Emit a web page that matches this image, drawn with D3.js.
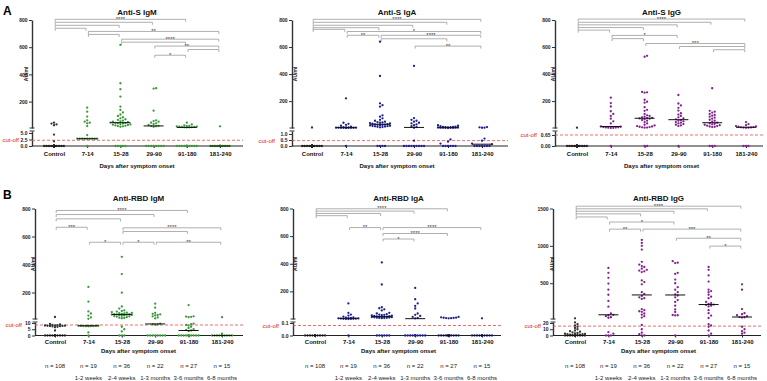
<!DOCTYPE html>
<html>
<head>
<meta charset="utf-8">
<script src="https://cdn.jsdelivr.net/npm/d3@7"></script>
<style>
  body { margin: 0; background: #fff; }
  svg { display: block; font-family: "Liberation Sans", Arial, sans-serif; }
</style>
</head>
<body>
<svg id="chart" width="767" height="381"></svg>
<script>
// groups and labels
var categories = ["Control", "7-14", "15-28", "29-90", "91-180", "181-240"];
var groupN = ["n = 108", "n = 19", "n = 36", "n = 22", "n = 27", "n = 15"];
var periodLabels = ["", "1-2 weeks", "2-4 weeks", "1-3 months", "3-6 months", "6-8 months"];

// tick values
var upperTicks = [200, 400, 600, 800];
var upperTicksRbdIgG = [500, 1000, 1500];
var lowerTicksSIgM = [0, 2.5, 5];
var lowerTicksSIgA = [0, 0.5, 1];
var lowerTicksSIgG = [0, 0.65];
var lowerTicksRbdIgM = [0, 5, 10];
var lowerTicksRbdIgA = [0, 0.1];
var lowerTicksRbdIgG = [0, 10, 20];

// cut-off per panel (A1..A3, B1..B3)
var cutoffs = [2.2, 0.45, 0.65, 8.4, 0.08, 15];

// AU/ml values, one array per group
var sIgM = [
  [45, 38, 32, 26, 4.4, 1.8,
   0,0,0,0,0,0,0,0,0,0, 0,0,0,0,0,0,0,0,0,0, 0,0,0,0,0,0,0,0,0,0, 0,0,0,0,0,0,0,0,0,0,
   0,0,0,0,0,0,0,0,0,0, 0,0,0,0,0,0,0,0,0,0, 0,0,0,0,0,0,0,0,0,0, 0,0,0,0,0,0,0,0,0,0,
   0,0,0,0,0,0,0,0,0,0, 0,0,0,0,0,0,0,0,0,0, 0,0],
  [155, 126, 90, 62, 52, 45, 40, 20, 4.2, 2.8, 2.8, 2.8, 2.8, 2.8, 2.8, 2.8, 2.8, 2.8, 0],
  [617, 335, 291, 237, 163, 139, 120, 105, 94, 85, 77, 70, 65, 60, 55, 52, 48, 46, 44, 42,
   40, 38, 35, 32, 30, 28, 25, 22, 20, 18, 15, 0, 0, 0, 0, 0],
  [298, 296, 133, 62, 57, 52, 45, 40, 35, 28, 22, 20, 18, 15, 0, 0, 0, 0, 0, 0, 0, 0],
  [45, 32, 25, 22, 20, 18, 16, 15, 14, 13, 12, 11, 10.5, 10, 0, 0, 0, 0, 0, 0, 0, 0, 0, 0, 0, 0, 0],
  [18, 0, 0, 0, 0, 0, 0, 0, 0, 0, 0, 0, 0, 0, 0]
];
var sIgA = [
  [5,
   0,0,0,0,0,0,0,0,0,0, 0,0,0,0,0,0,0,0,0,0, 0,0,0,0,0,0,0,0,0,0, 0,0,0,0,0,0,0,0,0,0,
   0,0,0,0,0,0,0,0,0,0, 0,0,0,0,0,0,0,0,0,0, 0,0,0,0,0,0,0,0,0,0, 0,0,0,0,0,0,0,0,0,0,
   0,0,0,0,0,0,0,0,0,0, 0,0,0,0,0,0,0,0,0,0, 0,0,0,0,0,0,0],
  [221, 40, 32, 25, 18, 12, 8, 6, 5, 4, 4, 3.5, 3, 3, 2.5, 2.5, 2, 2, 0],
  [640, 386, 184, 170, 159, 95, 85, 73, 62, 55, 48, 45, 42, 40, 38, 35, 33, 30, 28, 26,
   25, 24, 22, 20, 18, 16, 15, 14, 12, 10, 8, 6, 0, 0, 0, 0],
  [460, 75, 62, 55, 48, 40, 35, 28, 22, 15, 8, 3, 0.44, 0, 0, 0, 0, 0, 0, 0, 0, 0],
  [22, 18, 15, 12, 10, 9, 8, 7, 6, 5, 5, 4, 4, 3.5, 3, 3, 2.5, 2, 0.55, 0.36, 0.2, 0, 0, 0, 0, 0, 0],
  [8, 6, 4, 3, 0.62, 0.44, 0.2, 0.15, 0, 0, 0, 0, 0, 0, 0]
];
var sIgG = [
  [3,
   0,0,0,0,0,0,0,0,0,0, 0,0,0,0,0,0,0,0,0,0, 0,0,0,0,0,0,0,0,0,0, 0,0,0,0,0,0,0,0,0,0,
   0,0,0,0,0,0,0,0,0,0, 0,0,0,0,0,0,0,0,0,0, 0,0,0,0,0,0,0,0,0,0, 0,0,0,0,0,0,0,0,0,0,
   0,0,0,0,0,0,0,0,0,0, 0,0,0,0,0,0,0,0,0,0, 0,0,0,0,0,0,0],
  [225, 185, 160, 125, 105, 90, 70, 50, 35, 12, 10, 8, 6, 5, 4, 3, 2, 1.5, 0],
  [535, 528, 268, 265, 262, 210, 195, 188, 155, 135, 128, 105, 95, 90, 85, 80, 76, 74, 72, 70,
   65, 60, 55, 45, 35, 25, 20, 15, 12, 10, 8, 6, 4, 3, 0, 0],
  [245, 182, 168, 150, 130, 110, 100, 90, 80, 72, 65, 60, 55, 50, 45, 40, 35, 30, 25, 20, 15, 0],
  [295, 128, 122, 115, 105, 98, 92, 85, 78, 70, 62, 55, 48, 40, 35, 32, 28, 25, 22, 18, 15, 12, 10, 8, 0, 0, 0],
  [45, 30, 22, 15, 12, 10, 8, 6, 5, 4, 3, 2, 0, 0, 0]
];
var rbdIgM = [
  [25, 9.2, 8.8, 8.5, 8.3, 8.1, 8.0, 7.9, 7.8, 7.7, 7.6, 7.5, 7.3, 7.0, 6.6, 4.0,
   0,0,0,0,0,0,0,0,0,0, 0,0,0,0,0,0,0,0,0,0, 0,0,0,0,0,0,0,0,0,0, 0,0,0,0,0,0,0,0,0,0,
   0,0,0,0,0,0,0,0,0,0, 0,0,0,0,0,0,0,0,0,0, 0,0,0,0,0,0,0,0,0,0, 0,0,0,0,0,0,0,0,0,0,
   0,0,0,0,0,0,0,0,0,0, 0,0],
  [240, 135, 65, 50, 35, 22, 12, 7.9, 7.8, 7.8, 7.7, 7.7, 7.6, 7.6, 7.5, 7.5, 7.4, 2.5, 0],
  [455, 332, 199, 100, 85, 72, 68, 64, 60, 56, 54, 52, 50, 48, 46, 45, 44, 43, 42, 40,
   38, 36, 34, 32, 30, 28, 24, 20, 18, 16, 7, 5, 3.3, 0, 0, 0],
  [120, 92, 55, 48, 44, 40, 36, 30, 22, 15, 9.5, 9, 8.8, 8.6, 0, 0, 0, 0, 0, 0, 0, 0],
  [110, 30, 28, 26, 24, 9.5, 9, 8.5, 8, 7, 6, 5, 4.5, 4, 3.5, 0, 0, 0, 0, 0, 0, 0, 0, 0, 0, 0, 0],
  [24, 1.4, 0, 0, 0, 0, 0, 0, 0, 0, 0, 0, 0, 0, 0]
];
var rbdIgA = [
  [0,0,0,0,0,0,0,0,0,0, 0,0,0,0,0,0,0,0,0,0, 0,0,0,0,0,0,0,0,0,0, 0,0,0,0,0,0,0,0,0,0,
   0,0,0,0,0,0,0,0,0,0, 0,0,0,0,0,0,0,0,0,0, 0,0,0,0,0,0,0,0,0,0, 0,0,0,0,0,0,0,0,0,0,
   0,0,0,0,0,0,0,0,0,0, 0,0,0,0,0,0,0,0,0,0, 0,0,0,0,0,0,0,0],
  [113, 45, 32, 25, 18, 12, 10, 8, 6, 5, 4, 3, 2.5, 2, 1.5, 1, 0.5, 0.2, 0],
  [410, 250, 85, 78, 70, 62, 45, 40, 36, 32, 30, 28, 26, 24, 22, 20, 19, 18, 17, 16,
   15, 14, 13, 12, 11, 10, 9, 8, 7, 6, 0, 0, 0, 0, 0, 0],
  [225, 143, 113, 95, 76, 40, 30, 22, 15, 8, 5, 0, 0, 0, 0, 0, 0, 0, 0, 0, 0, 0],
  [15, 12, 10, 9, 8, 7, 6, 5, 0, 0, 0, 0, 0, 0, 0, 0, 0, 0, 0, 0, 0, 0, 0, 0, 0, 0, 0],
  [5, 0, 0, 0, 0, 0, 0, 0, 0, 0, 0, 0, 0, 0, 0]
];
var rbdIgG = [
  [30, 21, 18, 16, 14, 12, 10, 8, 7, 6, 5, 4, 3.5, 3, 2.5, 2, 2, 1.5, 1.5, 1, 1, 0.5,
   0,0,0,0,0,0,0,0,0,0, 0,0,0,0,0,0,0,0,0,0, 0,0,0,0,0,0,0,0,0,0, 0,0,0,0,0,0,0,0,0,0,
   0,0,0,0,0,0,0,0,0,0, 0,0,0,0,0,0,0,0,0,0, 0,0,0,0,0,0,0,0,0,0, 0,0,0,0,0,0,0,0,0,0,
   0,0,0,0,0,0],
  [705, 640, 572, 495, 414, 346, 264, 187, 95, 78, 72, 60, 45, 38, 5.5, 3, 0, 0, 0],
  [1080, 1040, 1000, 950, 786, 750, 730, 717, 695, 680, 670, 660, 650, 538, 516, 485, 380, 357, 330, 312,
   300, 290, 154, 140, 125, 118, 95, 80, 60, 40, 17, 10, 4.5, 2, 0, 0],
  [795, 775, 770, 640, 625, 549, 500, 447, 414, 380, 350, 336, 312, 275, 250, 200, 150, 115, 75, 72, 70, 0],
  [717, 680, 604, 522, 414, 395, 380, 346, 320, 300, 250, 235, 225, 215, 210, 200, 190, 140, 100, 68,
   35, 18, 16, 14, 8, 3, 0],
  [485, 414, 154, 100, 85, 72, 60, 48, 45, 40, 14, 10, 7, 4.5, 3]
];

// significance brackets: [from group, to group, height in AU/ml, stars]
var sIgMBrackets = [
  [0, 4, 805, "****"], [0, 3, 783, ""], [0, 2, 761, ""], [0, 1, 739, ""],
  [1, 5, 716, "**"], [1, 2, 694, ""], [2, 5, 659, "****"], [2, 4, 637, ""],
  [3, 5, 608, "**"], [4, 5, 583, ""], [3, 4, 541, "*"]
];
var sIgABrackets = [
  [0, 5, 805, "****"], [0, 4, 783, ""], [0, 3, 761, ""], [0, 2, 743, ""], [0, 1, 731, ""],
  [1, 5, 715, "*"], [1, 2, 687, "**"], [2, 5, 687, "****"], [2, 4, 661, ""], [3, 5, 607, "**"]
];
var sIgGBrackets = [
  [0, 5, 807, "****"], [0, 4, 783, ""], [0, 3, 764, ""], [0, 2, 744, ""], [0, 1, 725, ""],
  [1, 3, 686, "*"], [1, 2, 662, ""], [2, 5, 626, "***"], [3, 5, 604, ""], [4, 5, 580, ""]
];
var rbdIgMBrackets = [
  [0, 4, 786, "****"], [0, 3, 757, ""], [0, 2, 726, ""], [0, 1, 666, "***"],
  [2, 5, 662, "****"], [2, 4, 636, ""], [1, 2, 559, "*"], [2, 3, 559, "*"], [3, 5, 559, "**"]
];
var rbdIgABrackets = [
  [0, 4, 798, "****"], [0, 3, 781, ""], [0, 2, 764, ""], [0, 1, 748, ""],
  [1, 2, 662, "**"], [2, 5, 662, "****"], [2, 4, 619, "****"], [2, 3, 579, "*"]
];
var rbdIgGBrackets = [
  [0, 5, 1531, "****"], [0, 4, 1496, ""], [0, 3, 1463, ""], [0, 2, 1428, ""], [0, 1, 1387, ""],
  [1, 3, 1319, "*"], [1, 2, 1224, "**"], [2, 5, 1224, "***"], [3, 5, 1102, "**"], [4, 5, 997, "*"]
];

// layout
var rows = [
  {top: 20, breakBottom: 128, breakTop: 131, zero: 146, titleY: 15, labelPad: 3.5, daysY: 168},
  {top: 208.5, breakBottom: 319, breakTop: 322, zero: 335.5, titleY: 201, labelPad: 2, daysY: 353}
];

var green = "#3b973b", navy = "#1f1f8f", purple = "#80218f";

var panels = [
  {title: "Anti-S IgM", data: sIgM, brackets: sIgMBrackets, color: green, row: 0,
   axisX: 32, firstX: 54, lastX: 220, endX: 243, lowerMax: 5.77, lowerTicks: lowerTicksSIgM, lowerFmt: ".1f",
   upperMax: 800, upperTicks: upperTicks, unitDX: -6, cutDX: 13},
  {title: "Anti-S IgA", data: sIgA, brackets: sIgABrackets, color: navy, row: 0,
   axisX: 292, firstX: 312, lastX: 482, endX: 508, lowerMax: 1.25, lowerTicks: lowerTicksSIgA, lowerFmt: ".1f",
   upperMax: 800, upperTicks: upperTicks, unitDX: 3, cutDX: 17},
  {title: "Anti-S IgG", data: sIgG, brackets: sIgGBrackets, color: purple, row: 0,
   axisX: 555, firstX: 577, lastX: 746, endX: 763, lowerMax: 0.886, lowerTicks: lowerTicksSIgG, lowerFmt: ".2f",
   upperMax: 800, upperTicks: upperTicks, unitDX: -2, cutDX: 18},
  {title: "Anti-RBD IgM", data: rbdIgM, brackets: rbdIgMBrackets, color: green, row: 1,
   axisX: 35, firstX: 55, lastX: 222, endX: 243, lowerMax: 10.8, lowerTicks: lowerTicksRbdIgM, lowerFmt: "d",
   upperMax: 800, upperTicks: upperTicks, unitDX: -2, cutDX: 13},
  {title: "Anti-RBD IgA", data: rbdIgA, brackets: rbdIgABrackets, color: navy, row: 1,
   axisX: 293, firstX: 315, lastX: 482, endX: 501, lowerMax: 0.108, lowerTicks: lowerTicksRbdIgA, lowerFmt: ".1f",
   upperMax: 800, upperTicks: upperTicks, unitDX: 2, cutDX: 14},
  {title: "Anti-RBD IgG", data: rbdIgG, brackets: rbdIgGBrackets, color: purple, row: 1,
   axisX: 553, firstX: 575, lastX: 742, endX: 761, lowerMax: 21.6, lowerTicks: lowerTicksRbdIgG, lowerFmt: "d",
   upperMax: 1500, upperTicks: upperTicksRbdIgG, unitDX: -1, cutDX: 12}
];

var svg = d3.select("#chart");

// spread dots of one group sideways so they don't sit on top of each other
function swarm(vals, cx, y) {
  var pts = vals.map(function(v) { return {v: v, y: y(v)}; });
  pts.sort(function(a, b) { return b.y - a.y; });
  var placed = [];
  var d = 2.5, maxK = 4;
  pts.forEach(function(p) {
    var best = cx, bestScore = -1;
    for (var k = 0; k <= 2 * maxK; k++) {
      var off = (k % 2 ? 1 : -1) * Math.ceil(k / 2) * d;
      var px = cx + off, minD = Infinity;
      placed.forEach(function(q) {
        var dd = Math.hypot(q.x - px, q.y - p.y);
        if (dd < minD) minD = dd;
      });
      if (minD >= d) { best = px; break; }
      if (minD > bestScore) { bestScore = minD; best = px; }
    }
    p.x = best;
    placed.push(p);
  });
  return placed;
}

panels.forEach(function(p, pi) {
  var r = rows[p.row];
  var g = svg.append("g");

  var x = d3.scalePoint().domain(categories).range([p.firstX, p.lastX]);
  var yLow = d3.scaleLinear().domain([0, p.lowerMax]).range([r.zero, r.breakTop]);
  var yUp = d3.scaleLinear().domain([p.lowerMax, p.upperMax]).range([r.breakBottom, r.top]);
  function y(v) { return v <= p.lowerMax ? yLow(v) : yUp(v); }

  // title
  g.append("text")
    .attr("x", (p.firstX + p.lastX) / 2).attr("y", r.titleY)
    .attr("text-anchor", "middle").style("font-size", "8px").style("font-weight", "bold")
    .attr("fill", "#111").text(p.title);

  // y axis, upper part
  var upAxis = g.append("g").attr("transform", "translate(" + p.axisX + ",0)")
    .call(d3.axisLeft(yUp).tickValues(p.upperTicks).tickSize(3).tickSizeOuter(0).tickPadding(1.5)
      .tickFormat(d3.format("d")));
  // y axis, lower part
  var lowAxis = g.append("g").attr("transform", "translate(" + p.axisX + ",0)")
    .call(d3.axisLeft(yLow).tickValues(p.lowerTicks).tickSize(3).tickSizeOuter(0).tickPadding(1.5)
      .tickFormat(d3.format(p.lowerFmt)));
  [upAxis, lowAxis].forEach(function(a) {
    a.select(".domain").attr("stroke", "#333").attr("stroke-width", 1.4);
    a.selectAll(".tick line").attr("stroke", "#333").attr("stroke-width", 1);
    a.selectAll(".tick text").attr("fill", "#222").style("font-size", "5px").style("font-weight", "bold")
      .style("font-family", "'Liberation Sans', Arial, sans-serif");
  });
  // break caps
  [r.breakBottom, r.breakTop].forEach(function(by) {
    g.append("line").attr("x1", p.axisX - 2.5).attr("x2", p.axisX + 2.5)
      .attr("y1", by).attr("y2", by).attr("stroke", "#333").attr("stroke-width", 1);
  });

  // unit label
  g.append("text")
    .attr("transform", "translate(" + (p.axisX + p.unitDX) + "," + ((r.top + r.breakBottom) / 2) + ") rotate(-90)")
    .attr("text-anchor", "middle").attr("dy", "0.35em")
    .style("font-size", "5px").style("font-weight", "bold").attr("fill", "#222").text("AU/ml");

  // cut-off
  var cy = y(cutoffs[pi]);
  g.append("line").attr("x1", p.axisX).attr("x2", p.endX).attr("y1", cy).attr("y2", cy)
    .attr("stroke", "#e8474a").attr("stroke-width", 0.8).attr("stroke-dasharray", "3,2");
  g.append("text").attr("x", p.axisX - p.cutDX).attr("y", cy + 2.2)
    .attr("text-anchor", "end").style("font-size", "6px").attr("fill", "#e02020").text("cut-off");

  // x axis
  var xAxis = g.append("g").attr("transform", "translate(0," + r.zero + ")")
    .call(d3.axisBottom(x).tickSize(2).tickSizeOuter(0).tickPadding(r.labelPad));
  xAxis.select(".domain").remove();
  xAxis.selectAll(".tick line").attr("stroke", "#222");
  xAxis.selectAll(".tick text").attr("fill", "#111").style("font-size", "6px").style("font-weight", "bold")
    .style("font-family", "'Liberation Sans', Arial, sans-serif");
  g.append("line").attr("x1", p.axisX).attr("x2", p.endX).attr("y1", r.zero).attr("y2", r.zero)
    .attr("stroke", "#222").attr("stroke-width", 1.2);

  g.append("text")
    .attr("x", (p.firstX + p.lastX) / 2).attr("y", r.daysY)
    .attr("text-anchor", "middle").style("font-size", "6px").style("font-weight", "bold")
    .attr("fill", "#111").text("Days after symptom onset");

  // brackets
  var br = g.append("g");
  p.brackets.forEach(function(b) {
    var x1 = x(categories[b[0]]) + 1.2, x2 = x(categories[b[1]]) - 1.2, by = yUp(b[2]);
    br.append("path")
      .attr("d", "M" + x1 + "," + (by + 2.5) + "V" + by + "H" + x2 + "V" + (by + 2.5))
      .attr("fill", "none").attr("stroke", "#9a9a9a").attr("stroke-width", 0.8);
    if (b[3]) {
      br.append("text").attr("x", (x1 + x2) / 2).attr("y", by + 1.6)
        .attr("text-anchor", "middle").style("font-size", "6px").attr("fill", "#444").text(b[3]);
    }
  });

  // dots and medians
  p.data.forEach(function(vals, gi) {
    var cx = x(categories[gi]);
    var pts = swarm(vals, cx, y);
    g.append("g").selectAll("circle").data(pts).enter().append("circle")
      .attr("cx", function(d) { return d.x; })
      .attr("cy", function(d) { return d.y; })
      .attr("r", 1.15)
      .attr("fill", gi === 0 ? "#333" : p.color);
    var my = y(d3.median(vals));
    g.append("line").attr("x1", cx - 10).attr("x2", cx + 10).attr("y1", my).attr("y2", my)
      .attr("stroke", "#111").attr("stroke-width", 1);
  });

  // group sizes under the bottom row
  if (p.row === 1) {
    categories.forEach(function(c, gi) {
      g.append("text").attr("x", x(c)).attr("y", 368).attr("text-anchor", "middle")
        .style("font-size", "6px").attr("fill", "#222").text(groupN[gi]);
      if (periodLabels[gi]) {
        g.append("text").attr("x", x(c)).attr("y", 379.5).attr("text-anchor", "middle")
          .style("font-size", "6px").attr("fill", "#222").text(periodLabels[gi]);
      }
    });
  }
});

// panel letters
svg.append("text").attr("x", 3).attr("y", 15).style("font-size", "12px").style("font-weight", "bold").text("A");
svg.append("text").attr("x", 3).attr("y", 199).style("font-size", "12px").style("font-weight", "bold").text("B");
</script>
</body>
</html>
